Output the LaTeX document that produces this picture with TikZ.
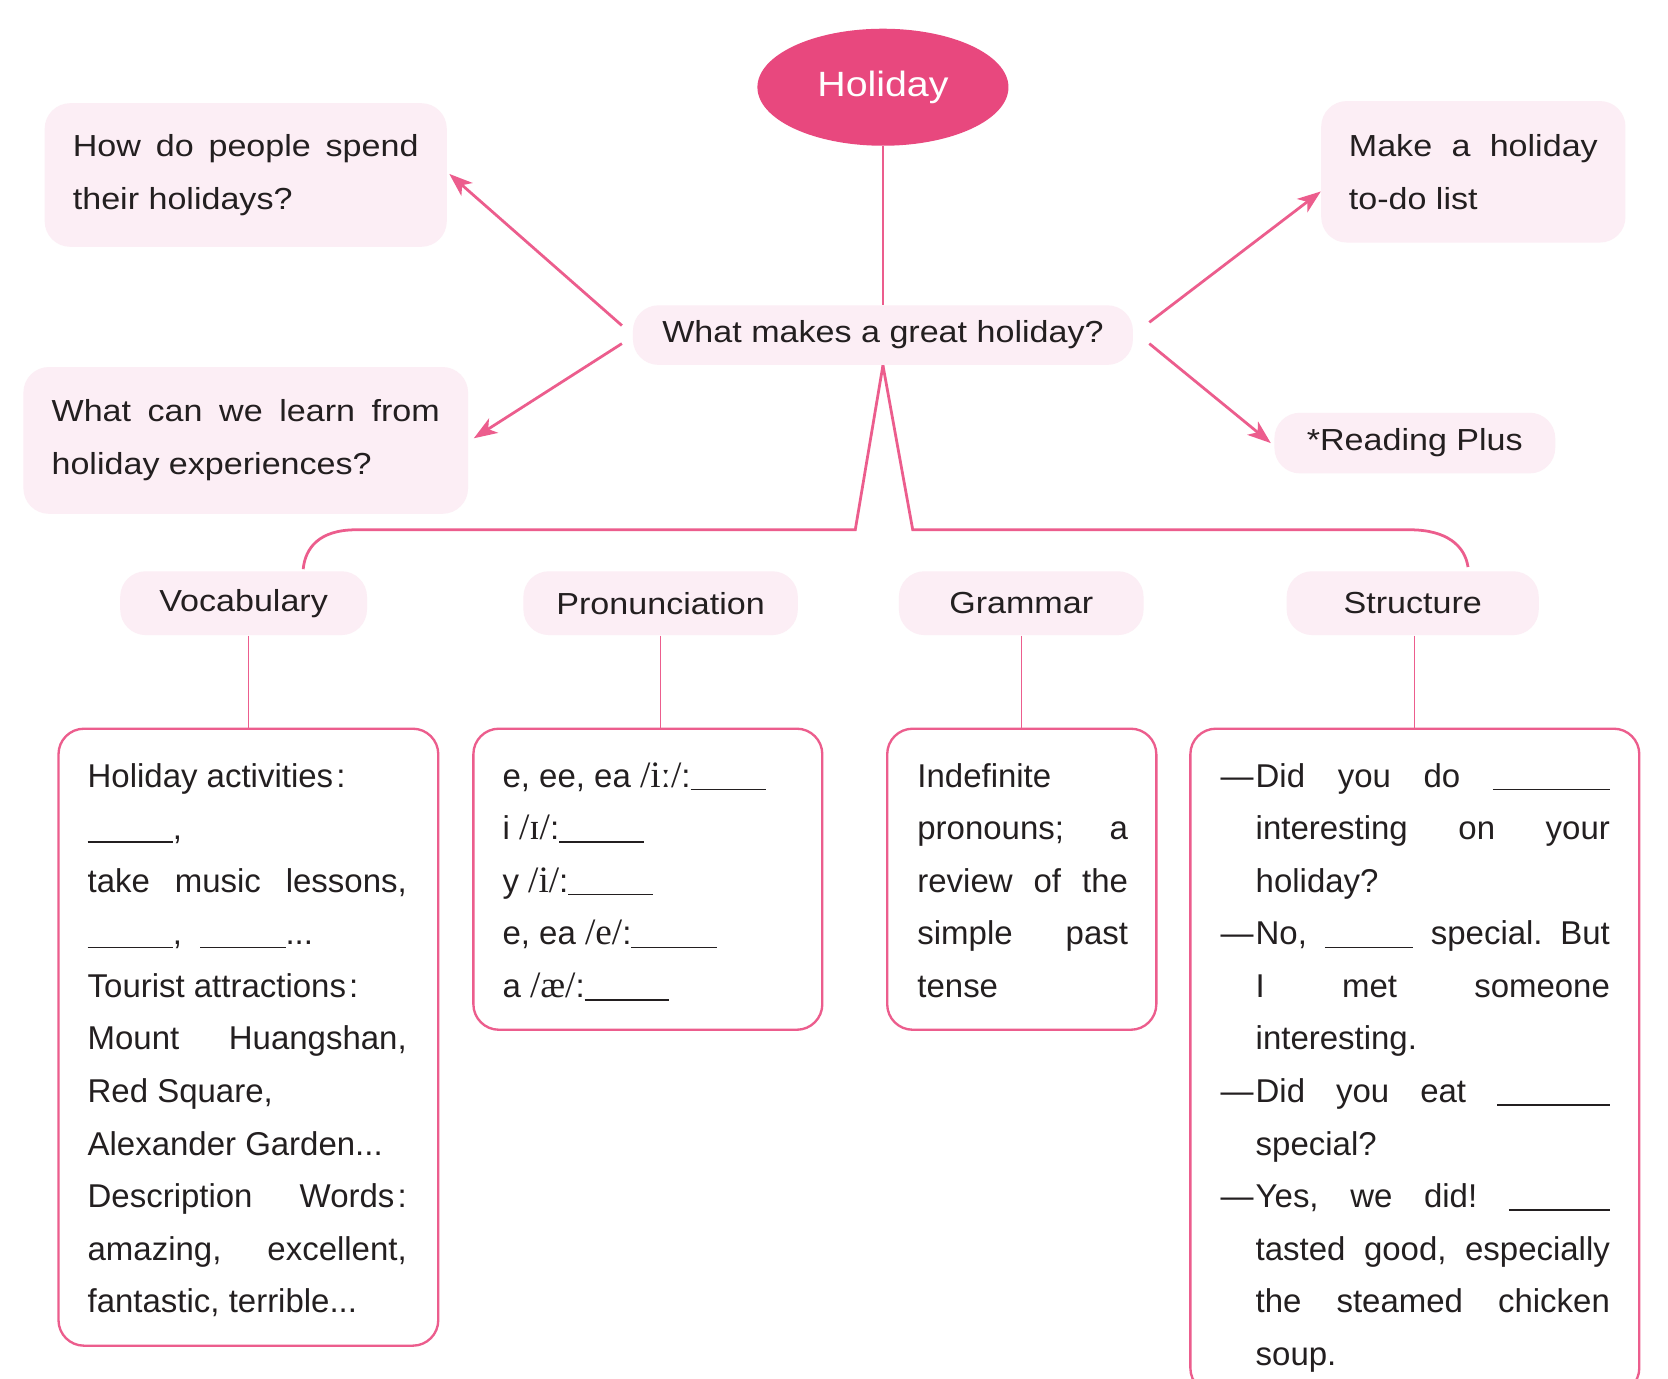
\documentclass[tikz,border=0pt]{standalone}
\usepackage{fontspec}
\setmainfont{Liberation Sans}
\newfontfamily\topfont[FakeStretch=1.12]{Liberation Sans}
\newfontfamily\ipafontbase{Liberation Serif}
\newcommand\ipa[1]{{\ipafontbase\fontsize{17.5}{24.7}\selectfont #1}}
\usetikzlibrary{shapes.geometric,arrows.meta,calc}
\definecolor{pinkfill}{HTML}{E8487E}
\definecolor{pinkline}{HTML}{EC5D8D}
\definecolor{pinkbg}{HTML}{FCEEF5}
\definecolor{txt}{HTML}{231F20}
\newdimen\PX \PX=0.5pt
\newcommand\blank[1]{\rule[-1.5pt]{#1\PX}{0.7pt}}
\newcommand\Ln[1]{\hbox to\hsize{#1\hfil}}
\newcommand\Jn[1]{\hbox to\hsize{#1}}
\newcommand\Dl[1]{\hbox to\hsize{\hbox to 33\PX{—\hss}#1}}
\newcommand\Il[1]{\hbox to\hsize{\hskip 33\PX #1}}
\newcommand\Block[2]{\vtop{\hsize=#1\PX #2}}
\begin{document}
\begin{tikzpicture}[x=0.5pt,y=-0.5pt,
  bgbox/.style={fill=pinkbg, rounded corners=12pt, inner sep=0pt, draw=none},
  bigbox/.style={draw=pinkline, line width=1.1pt, rounded corners=12pt, inner sep=0pt},
  mainln/.style={draw=pinkline, line width=1.3pt},
  thinln/.style={draw=pinkline, line width=0.5pt},
  arr/.style={mainln, -{Stealth[length=11pt,width=8pt,inset=3pt]}},
  lbl/.style={font=\topfont\fontsize{14.3}{25}\selectfont, text=txt},
  body/.style={font=\fontsize{15.5}{24.7}\selectfont, text=txt, inner sep=0pt, anchor=base west},
]
\fill[white] (0,0) rectangle (1568,1296);
\useasboundingbox (0,0) rectangle (1568,1296);

% top part
\node[ellipse, fill=pinkfill, minimum width=118pt, minimum height=55pt, inner sep=0pt,
      text=white, font=\topfont\fontsize{16.5}{20}\selectfont] (hol) at (830,82) {Holiday};
\node[bgbox, lbl, minimum width=235pt, minimum height=28pt] (c) at (830,315) {What makes a great holiday?};
\node[bgbox, lbl, minimum width=189pt, minimum height=67.5pt] (q1) at (231,164.5)
  {\Block{325}{\Jn{How\hfill do\hfill people\hfill spend}\Ln{their holidays?}}};
\node[bgbox, lbl, minimum width=209pt, minimum height=69pt] (q2) at (231,414)
  {\Block{365}{\Jn{What\hfill can\hfill we\hfill learn\hfill from}\Ln{holiday experiences?}}};
\node[bgbox, lbl, minimum width=143pt, minimum height=66.5pt] (q3) at (1385,161.5)
  {\Block{234}{\Jn{Make\hfill a\hfill holiday}\Ln{to-do list}}};
\node[bgbox, lbl, minimum width=132pt, minimum height=28.5pt] (q4) at (1330,416.5) {*Reading Plus};

\draw[mainln] (hol.south) -- (c.north);
\draw[arr] ([shift={(-10,-9)}]c.west) -- ([shift={(2,-1)}]q1.east);
\draw[arr] ([shift={(-10,8)}]c.west) -- ([shift={(5,-2)}]q2.east);
\draw[arr] ([shift={(15,-12)}]c.east) -- ([shift={(0,18.5)}]q3.west);
\draw[arr] ([shift={(15,8)}]c.east) -- ([shift={(-3,0)}]q4.west);

\coordinate (lb) at (285,535);
\coordinate (rb) at (1380,533);
\draw[mainln] (c.south) -- (804,498) -- (335,498) .. controls (300,498) and (287,515) .. (lb);
\draw[mainln] (c.south) -- (858,498) -- (1325,498) .. controls (1360,498) and (1377,513) .. (rb);

% headers
\node[bgbox, lbl, minimum width=116pt, minimum height=30pt] (hv) at (229,567) {Vocabulary};
\node[bgbox, lbl, minimum width=129pt, minimum height=30pt] (hp) at (621,567) {Pronunciation};
\node[bgbox, lbl, minimum width=115pt, minimum height=30pt] (hg) at (960,567) {Grammar};
\node[bgbox, lbl, minimum width=118.5pt, minimum height=30pt] (hs) at (1328,567) {Structure};

% boxes
\node[bigbox, minimum width=178.5pt, minimum height=290pt] (vb) at (233.5,975) {};
\node[bigbox, minimum width=164pt, minimum height=141.5pt] (pb) at (609,826.5) {};
\node[bigbox, minimum width=126.5pt, minimum height=141.5pt] (gb) at (960.5,826.5) {};
\node[bigbox, minimum width=211pt, minimum height=312.5pt] (sb) at (1330,997.5) {};

\draw[thinln] (vb.north |- hv.south) -- (vb.north);
\draw[thinln] (hp.south) -- (hp.south |- pb.north);
\draw[thinln] (hg.south) -- (hg.south |- gb.north);
\draw[thinln] (sb.north |- hs.south) -- (sb.north);

\node[body] (vt) at (82,740) {\Block{300}{%
  \Ln{Holiday activities\kern1.5pt:}%
  \Ln{\blank{80},}%
  \Jn{take\hfill music\hfill lessons,}%
  \Ln{\hbox to 106\PX{\blank{80},\hss}\blank{80}...}%
  \Ln{Tourist attractions\kern1.5pt:}%
  \Jn{Mount\hfill Huangshan,}%
  \Ln{Red Square,}%
  \Ln{Alexander Garden...}%
  \Jn{Description\hfill Words\kern1.5pt:}%
  \Jn{amazing,\hfill excellent,}%
  \Ln{fantastic, terrible...}}};

\node[body] (pt) at (472,740) {\Block{290}{%
  \Ln{e, ee, ea \ipa{/iː/}:\blank{71}}%
  \Ln{i \ipa{/ɪ/}:\blank{80}}%
  \Ln{y \ipa{/i/}:\blank{80}}%
  \Ln{e, ea \ipa{/e/}:\blank{80}}%
  \Ln{a \ipa{/æ/}:\blank{79}}}};

\node[body] (gt) at (862,740) {\Block{198}{%
  \Ln{Indefinite}%
  \Jn{pronouns;\hfill a}%
  \Jn{review\hfill of\hfill the}%
  \Jn{simple\hfill past}%
  \Ln{tense}}};

\node[body] (st) at (1147,740) {\Block{366}{%
  \Dl{Did\hfill you\hfill do\hfill\blank{110}}%
  \Il{interesting\hfill on\hfill your}%
  \Il{holiday?\hfil}%
  \Dl{No,\hfill\blank{83}\hfill special.\hfill But}%
  \Il{I\hfill met\hfill someone}%
  \Il{interesting.\hfil}%
  \Dl{Did\hfill you\hfill eat\hfill\blank{106}}%
  \Il{special?\hfil}%
  \Dl{Yes,\hfill we\hfill did!\hfill\blank{95}}%
  \Il{tasted\hfill good,\hfill especially}%
  \Il{the\hfill steamed\hfill chicken}%
  \Il{soup.\hfil}}};
\end{tikzpicture}
\end{document}
